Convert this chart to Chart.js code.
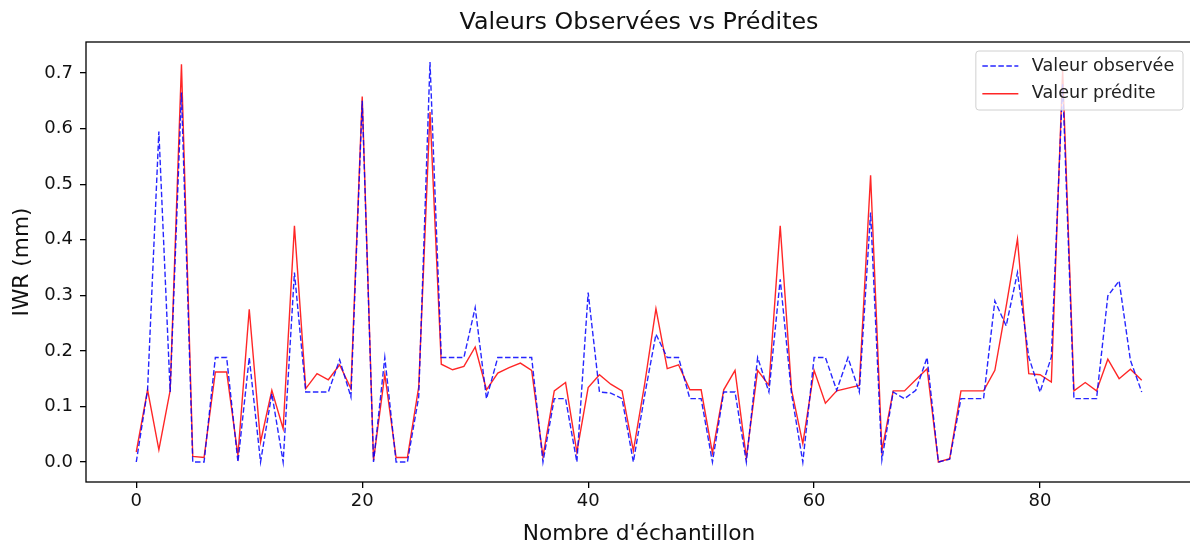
<!DOCTYPE html>
<html>
<head>
<meta charset="utf-8">
<script src="https://cdn.jsdelivr.net/npm/chart.js@4.4.0/dist/chart.umd.min.js"></script>
<style>
  html, body { margin: 0; padding: 0; background: #fff; overflow: hidden; }
  #wrap { width: 1200px; height: 547px; }
</style>
</head>
<body>
<div id="wrap"><canvas id="chart" width="1200" height="547"></canvas></div>
<script>
// valeurs (IWR en mm), index = numero d'echantillon
const observed = [
  0.0, 0.13, 0.595, 0.126, 0.665, 0.0, 0.0, 0.188, 0.188, 0.0,
  0.188, 0.0, 0.123, 0.0, 0.341, 0.126, 0.126, 0.126, 0.184, 0.117,
  0.65, 0.0, 0.188, 0.0, 0.0, 0.117, 0.72, 0.188, 0.188, 0.188,
  0.278, 0.114, 0.188, 0.188, 0.188, 0.188, 0.0, 0.114, 0.114, 0.0,
  0.305, 0.126, 0.124, 0.114, 0.0, 0.12, 0.23, 0.188, 0.188, 0.114,
  0.114, 0.0, 0.126, 0.126, 0.0, 0.188, 0.126, 0.329, 0.123, 0.0,
  0.188, 0.188, 0.129, 0.188, 0.126, 0.449, 0.004, 0.126, 0.114, 0.129,
  0.188, 0.0, 0.005, 0.114, 0.114, 0.114, 0.29, 0.245, 0.341, 0.189,
  0.126, 0.189, 0.68, 0.114, 0.114, 0.114, 0.299, 0.326, 0.183, 0.126
];
const predicted = [
  0.018, 0.13, 0.022, 0.129, 0.716, 0.01, 0.008, 0.162, 0.162, 0.012,
  0.275, 0.036, 0.129, 0.06, 0.425, 0.132, 0.159, 0.148, 0.175, 0.132,
  0.658, 0.003, 0.158, 0.008, 0.008, 0.135, 0.63, 0.176, 0.166, 0.172,
  0.207, 0.13, 0.16, 0.17, 0.178, 0.165, 0.01, 0.128, 0.143, 0.018,
  0.134, 0.157, 0.14, 0.128, 0.02, 0.14, 0.276, 0.168, 0.175, 0.13,
  0.13, 0.016, 0.13, 0.165, 0.008, 0.165, 0.138, 0.425, 0.13, 0.033,
  0.165, 0.106, 0.128, 0.133, 0.138, 0.516, 0.02, 0.128, 0.128, 0.148,
  0.168, 0.0, 0.006, 0.128, 0.128, 0.128, 0.165, 0.28, 0.401, 0.159,
  0.157, 0.144, 0.705, 0.128, 0.143, 0.128, 0.185, 0.15, 0.167, 0.147
];
const seriesLabels = ["Valeur observée", "Valeur prédite"];
const chartTitle = "Valeurs Observées vs Prédites";

const FONT = "'DejaVu Sans', sans-serif";
const toPoints = (arr) => arr.map((v, i) => ({ x: i, y: v }));

// cadre noir autour de la zone de trace
const framePlugin = {
  id: "frame",
  afterDatasetsDraw(chart) {
    const { ctx, chartArea: a } = chart;
    ctx.save();
    ctx.strokeStyle = "#000";
    ctx.lineWidth = 1.3;
    ctx.strokeRect(a.left, a.top, a.right - a.left, a.bottom - a.top);
    ctx.restore();
  },
};

// titre centre sur les axes (pas sur tout le canvas)
const axesTitle = {
  id: "axesTitle",
  afterDraw(chart) {
    const { ctx, chartArea: a } = chart;
    ctx.save();
    ctx.font = "23.8px " + FONT;
    ctx.fillStyle = "#111";
    ctx.textAlign = "center";
    ctx.textBaseline = "alphabetic";
    ctx.fillText(chartTitle, (a.left + a.right) / 2, 29);
    ctx.restore();
  },
};

// legende en haut a droite, dans le cadre (style matplotlib)
const boxLegend = {
  id: "boxLegend",
  afterDraw(chart) {
    const { ctx, chartArea: a } = chart;
    const fs = 17.6;
    ctx.save();
    ctx.font = fs + "px " + FONT;
    let textW = 0;
    chart.data.datasets.forEach((ds) => {
      textW = Math.max(textW, ctx.measureText(ds.label).width);
    });
    const w = 7.2 + 36 + 14.4 + textW + 7.2;
    const h = 59;
    const right = a.right - 9;
    const left = right - w;
    const top = a.top + 9;
    ctx.fillStyle = "rgba(255,255,255,0.8)";
    ctx.strokeStyle = "#d0d0d0";
    ctx.lineWidth = 1;
    ctx.beginPath();
    ctx.roundRect(left, top, w, h, 3);
    ctx.fill();
    ctx.stroke();
    chart.data.datasets.forEach((ds, i) => {
      const y = top + 15 + i * 27.7;
      ctx.strokeStyle = ds.borderColor;
      ctx.lineWidth = ds.borderWidth;
      ctx.setLineDash(ds.borderDash || []);
      ctx.beginPath();
      ctx.moveTo(left + 6.5, y);
      ctx.lineTo(left + 42.5, y);
      ctx.stroke();
      ctx.setLineDash([]);
      ctx.fillStyle = "#222";
      ctx.textBaseline = "middle";
      ctx.textAlign = "left";
      ctx.fillText(ds.label, left + 56, y);
    });
    ctx.restore();
  },
};

new Chart(document.getElementById("chart"), {
  type: "line",
  data: {
    datasets: [
      {
        label: seriesLabels[0],
        data: toPoints(observed),
        borderColor: "rgba(0,0,255,0.85)",
        borderWidth: 1.4,
        borderDash: [5.5, 2.5],
        pointRadius: 0,
        tension: 0,
        fill: false,
      },
      {
        label: seriesLabels[1],
        data: toPoints(predicted),
        borderColor: "rgba(255,0,0,0.85)",
        borderWidth: 1.4,
        pointRadius: 0,
        tension: 0,
        fill: false,
      },
    ],
  },
  options: {
    responsive: false,
    animation: false,
    devicePixelRatio: 1,
    layout: { padding: { left: 0, right: 8, top: 42, bottom: 0 } },
    plugins: {
      legend: { display: false },
      tooltip: { enabled: false },
      title: { display: false },
    },
    scales: {
      x: {
        type: "linear",
        min: -4.45,
        max: 93.45,
        afterFit: (s) => { s.height = 65; },
        border: { display: false },
        grid: { drawOnChartArea: false, drawTicks: true, tickLength: 6, color: "#000", lineWidth: 1.3 },
        ticks: {
          stepSize: 20,
          includeBounds: false,
          padding: 3,
          color: "#111",
          font: { family: FONT, size: 18 },
          maxRotation: 0,
        },
        title: {
          display: true,
          text: "Nombre d'échantillon",
          color: "#111",
          font: { family: FONT, size: 21.7 },
          padding: { top: 0, bottom: 0 },
        },
      },
      y: {
        min: -0.036,
        max: 0.756,
        afterFit: (s) => { s.width = 86; },
        border: { display: false },
        grid: { drawOnChartArea: false, drawTicks: true, tickLength: 6, color: "#000", lineWidth: 1.3 },
        ticks: {
          stepSize: 0.1,
          includeBounds: false,
          padding: 7,
          color: "#111",
          font: { family: FONT, size: 18 },
          callback: (v) => v.toFixed(1),
        },
        title: {
          display: true,
          text: "IWR (mm)",
          color: "#111",
          font: { family: FONT, size: 21.7 },
          padding: { top: 9, bottom: 0 },
        },
      },
    },
  },
  plugins: [framePlugin, axesTitle, boxLegend],
});
</script>
</body>
</html>
